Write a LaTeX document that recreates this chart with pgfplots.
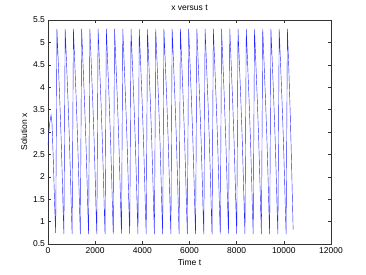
\documentclass[border=0pt]{standalone}
\usepackage{pgfplots}
\pgfplotsset{compat=1.18}
\usepackage{fontspec}
\setmainfont{Liberation Sans}
\begin{document}
\fontsize{8.5bp}{10bp}\selectfont
\begin{tikzpicture}[x=1bp,y=1bp]
\path[use as bounding box] (-48,-31) rectangle (318,244);
\begin{axis}[
  at={(0,0)}, anchor=south west,
  scale only axis, width=283bp, height=224bp,
  xmin=0, xmax=12000, ymin=0.5, ymax=5.5,
  xtick={0,2000,4000,6000,8000,10000,12000},
  ytick={0.5,1,1.5,2,2.5,3,3.5,4,4.5,5,5.5},
  scaled x ticks=false,
  /pgf/number format/assume math mode=true,
  /pgf/number format/1000 sep={},
  tick align=inside, tick pos=both, major tick length=3bp,
  axis line style={black!80, line width=0.5pt},
  every tick/.style={black!80, line width=0.5pt},
  ticklabel style={font=\fontsize{8.5bp}{10bp}\selectfont},
  xticklabel style={yshift=-1bp},
  title={x versus t},
  title style={font=\fontsize{8.5bp}{10bp}\selectfont, at={(axis description cs:0.5,1)}, anchor=center, yshift=6bp},
  xlabel={Time t},
  ylabel={Solution x},
  xlabel style={font=\fontsize{8.5bp}{10bp}\selectfont, at={(axis description cs:0.5,0)}, anchor=center, yshift=-18bp},
  ylabel style={font=\fontsize{8.5bp}{10bp}\selectfont, at={(axis description cs:-0.0848,0.5)}, anchor=center},
  clip=true,
]
\addplot[blue!85, line width=0.42pt] table {
t x
0 2.7
60 3.15
130 3.38
170 3.2
230 2.3
280 1.4
310 0.95
326 0.75
380 5.3
440 4.5
500 3.7
560 2.8
610 1.9
645 1.2
665 0.85
674 0.72
729 5.3
789 4.5
849 3.7
909 2.8
959 1.9
994 1.2
1014 0.85
1023 0.72
1078 5.3
1138 4.5
1198 3.7
1258 2.8
1308 1.9
1343 1.2
1363 0.85
1372 0.72
1427 5.3
1487 4.5
1547 3.7
1607 2.8
1657 1.9
1692 1.2
1712 0.85
1721 0.72
1776 5.3
1836 4.5
1896 3.7
1956 2.8
2006 1.9
2041 1.2
2061 0.85
2070 0.72
2125 5.3
2185 4.5
2245 3.7
2305 2.8
2355 1.9
2390 1.2
2410 0.85
2419 0.72
2474 5.3
2534 4.5
2594 3.7
2654 2.8
2704 1.9
2739 1.2
2759 0.85
2768 0.72
2823 5.3
2883 4.5
2943 3.7
3003 2.8
3053 1.9
3088 1.2
3108 0.85
3117 0.72
3172 5.3
3232 4.5
3292 3.7
3352 2.8
3402 1.9
3437 1.2
3457 0.85
3466 0.72
3521 5.3
3581 4.5
3641 3.7
3701 2.8
3751 1.9
3786 1.2
3806 0.85
3815 0.72
3870 5.3
3930 4.5
3990 3.7
4050 2.8
4100 1.9
4135 1.2
4155 0.85
4164 0.72
4219 5.3
4279 4.5
4339 3.7
4399 2.8
4449 1.9
4484 1.2
4504 0.85
4513 0.72
4568 5.3
4628 4.5
4688 3.7
4748 2.8
4798 1.9
4833 1.2
4853 0.85
4862 0.72
4917 5.3
4977 4.5
5037 3.7
5097 2.8
5147 1.9
5182 1.2
5202 0.85
5211 0.72
5266 5.3
5326 4.5
5386 3.7
5446 2.8
5496 1.9
5531 1.2
5551 0.85
5560 0.72
5615 5.3
5675 4.5
5735 3.7
5795 2.8
5845 1.9
5880 1.2
5900 0.85
5909 0.72
5964 5.3
6024 4.5
6084 3.7
6144 2.8
6194 1.9
6229 1.2
6249 0.85
6258 0.72
6313 5.3
6373 4.5
6433 3.7
6493 2.8
6543 1.9
6578 1.2
6598 0.85
6607 0.72
6662 5.3
6722 4.5
6782 3.7
6842 2.8
6892 1.9
6927 1.2
6947 0.85
6956 0.72
7011 5.3
7071 4.5
7131 3.7
7191 2.8
7241 1.9
7276 1.2
7296 0.85
7305 0.72
7360 5.3
7420 4.5
7480 3.7
7540 2.8
7590 1.9
7625 1.2
7645 0.85
7654 0.72
7709 5.3
7769 4.5
7829 3.7
7889 2.8
7939 1.9
7974 1.2
7994 0.85
8003 0.72
8058 5.3
8118 4.5
8178 3.7
8238 2.8
8288 1.9
8323 1.2
8343 0.85
8352 0.72
8407 5.3
8467 4.5
8527 3.7
8587 2.8
8637 1.9
8672 1.2
8692 0.85
8701 0.72
8756 5.3
8816 4.5
8876 3.7
8936 2.8
8986 1.9
9021 1.2
9041 0.85
9050 0.72
9105 5.3
9165 4.5
9225 3.7
9285 2.8
9335 1.9
9370 1.2
9390 0.85
9399 0.72
9454 5.3
9514 4.5
9574 3.7
9634 2.8
9684 1.9
9719 1.2
9739 0.85
9748 0.72
9803 5.3
9863 4.5
9923 3.7
9983 2.8
10033 1.9
10068 1.2
10088 0.85
10097 0.72
10152 5.3
10212 4.4
10272 3.4
10332 2.2
10372 1.3
10395 0.82
};
\end{axis}
\end{tikzpicture}
\end{document}
